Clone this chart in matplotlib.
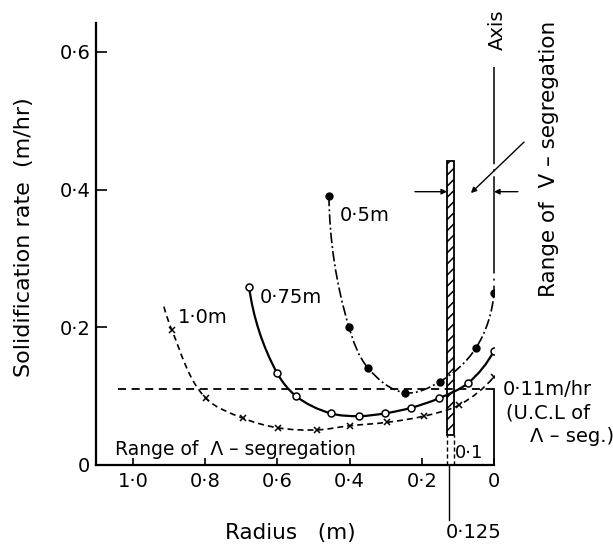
import numpy as np
import matplotlib
matplotlib.use("Agg")
import matplotlib.pyplot as plt
from matplotlib.path import Path
from matplotlib.patches import PathPatch, Rectangle
from matplotlib.transforms import IdentityTransform

plt.rcParams['font.family'] = ['DejaVu Sans']
plt.rcParams['lines.scale_dashes'] = False
plt.rcParams['hatch.linewidth'] = 1.1

# ---- data ----
radius_10 = [0.914, 0.892, 0.798, 0.695, 0.598, 0.490, 0.399, 0.296, 0.194, 0.097, 0.0]
rate_10 = [0.230, 0.196, 0.097, 0.068, 0.054, 0.051, 0.057, 0.062, 0.071, 0.087, 0.128]
marker_from_10 = 1  # first point is only the start of the dashed curve

radius_075 = [0.678, 0.601, 0.548, 0.452, 0.374, 0.302, 0.230, 0.152, 0.072, 0.0]
rate_075 = [0.258, 0.134, 0.100, 0.075, 0.071, 0.075, 0.083, 0.097, 0.119, 0.166]

radius_05 = [0.457, 0.402, 0.349, 0.247, 0.150, 0.050, 0.0]
rate_05 = [0.391, 0.201, 0.141, 0.105, 0.121, 0.170, 0.250]

ucl_rate = 0.11
ucl_from = 1.042
bar_radius = [0.130, 0.111]
bar_rate = [0.043, 0.441]
axis_line_rate = [0.250, 0.578]
v_range_rate = 0.397

xticks = [1.0, 0.8, 0.6, 0.4, 0.2, 0.0]
xticklabels = ["1·0", "0·8", "0·6", "0·4", "0·2", "0"]
yticks = [0.0, 0.2, 0.4, 0.6]
yticklabels = ["0", "0·2", "0·4", "0·6"]

W, H = 613, 548
fig = plt.figure(figsize=(W / 100, H / 100), dpi=100)
ax = fig.add_axes([96 / W, 1 - 465 / H, (494 - 96) / W, (465 - 23) / H])
ax.set_xlim(1.102, 0.0)
ax.set_ylim(0.0, 0.642)
ax.set_autoscale_on(False)
for s in ["top", "right"]:
    ax.spines[s].set_visible(False)
for s in ["left", "bottom"]:
    ax.spines[s].set_linewidth(1.6)

ax.set_xticks(xticks)
ax.set_xticklabels(xticklabels, fontsize=14)
ax.set_yticks(yticks)
ax.set_yticklabels(yticklabels, fontsize=14)
ax.tick_params(axis='x', direction='in', length=5, width=1.2, pad=5)
ax.tick_params(axis='y', direction='in', length=8, width=1.2, pad=4)


def _unit(v):
    return v / np.linalg.norm(v)


def smooth_path(xs, ys):
    """Smooth Bezier path through the points, built in display space."""
    P = ax.transData.transform(np.column_stack([xs, ys]).astype(float))
    n = len(P)
    T = np.zeros_like(P)
    for i in range(1, n - 1):
        T[i] = _unit(_unit(P[i] - P[i - 1]) + _unit(P[i + 1] - P[i]))
    T[0] = _unit(2 * _unit(P[1] - P[0]) - T[1])
    T[-1] = _unit(2 * _unit(P[-1] - P[-2]) - T[-2])
    verts = [P[0]]
    codes = [Path.MOVETO]
    for i in range(n - 1):
        L = np.linalg.norm(P[i + 1] - P[i])
        verts += [P[i] + T[i] * L / 3, P[i + 1] - T[i + 1] * L / 3, P[i + 1]]
        codes += [Path.CURVE4] * 3
    return Path(verts, codes)


def add_curve(xs, ys, **kw):
    patch = PathPatch(smooth_path(xs, ys), fill=False, ec='black',
                      transform=IdentityTransform(), **kw)
    ax.add_patch(patch)


# curves
add_curve(radius_10, rate_10, lw=1.2, linestyle=(0, (4.3, 2.9)))
add_curve(radius_075, rate_075, lw=1.6, linestyle='-')
add_curve(radius_05, rate_05, lw=1.2, linestyle=(0, (7.5, 2.2, 1.4, 2.2)))

ax.plot(radius_10[marker_from_10:], rate_10[marker_from_10:], ls='none', marker='x',
        ms=5, mew=1.1, color='black', zorder=4)
ax.plot(radius_075, rate_075, ls='none', marker='o', ms=5, mew=1.1,
        mfc='white', mec='black', zorder=4)
ax.plot(radius_05, rate_05, ls='none', marker='o', ms=5, color='black', zorder=4)

# U.C.L. line and boundary
ax.plot([ucl_from, 0.0], [ucl_rate, ucl_rate], color='black', lw=1.3,
        dashes=(5.8, 4.0))
ax.plot([0.0, 0.0], [0.0, ucl_rate], color='black', lw=1.3, clip_on=False)

# axis (dash-dot) line
ax.plot([0.0, 0.0], [axis_line_rate[1], axis_line_rate[0]], color='black', lw=1.1,
        dashes=(70, 3.6, 1.5, 3.6), clip_on=False)

# hatched bar
ax.add_patch(Rectangle((bar_radius[1], bar_rate[0]), bar_radius[0] - bar_radius[1],
                       bar_rate[1] - bar_rate[0], fill=False, hatch='///',
                       ec='black', lw=1.3, zorder=3))
for r in bar_radius:
    ax.plot([r, r], [0.0, bar_rate[0]], color='black', lw=1.0, dashes=(3, 2))
ax.plot([0.125, 0.125], [0.0, -0.08], color='black', lw=1.0, clip_on=False)

# arrows for V-segregation range
aprops = dict(arrowstyle='-|>', lw=1.0, color='black', mutation_scale=8,
              shrinkA=0, shrinkB=0)
ax.annotate('', xy=(bar_radius[0], v_range_rate), xytext=(0.219, v_range_rate),
            arrowprops=aprops, annotation_clip=False)
ax.annotate('', xy=(0.0, v_range_rate), xytext=(-0.066, v_range_rate),
            arrowprops=aprops, annotation_clip=False)
ax.annotate('', xy=(0.064, 0.395), xytext=(-0.083, 0.469),
            arrowprops=aprops, annotation_clip=False)

# curve labels
fs = 14
ax.text(0.875, 0.214, "1·0m", fontsize=fs, ha='left', va='center')
ax.text(0.648, 0.244, "0·75m", fontsize=fs, ha='left', va='center')
ax.text(0.427, 0.363, "0·5m", fontsize=fs, ha='left', va='center')
ax.text(1.05, 0.023, "Range of  Λ – segregation", fontsize=13.5, ha='left', va='center')
ax.text(0.068, 0.018, "0·1", fontsize=13, ha='center', va='center')
ax.text(-0.025, 0.109, "0·11m/hr", fontsize=fs, ha='left', va='center', clip_on=False)
ax.text(-0.033, 0.076, "(U.C.L of", fontsize=fs, ha='left', va='center', clip_on=False)
ax.text(-0.10, 0.041, "Λ – seg.)", fontsize=fs, ha='left', va='center', clip_on=False)
ax.text(-0.008, 0.632, "Axis", fontsize=fs, rotation=90, ha='center', va='center',
        clip_on=False)

fig.text(549 / W, 1 - 159 / H, "Range of  V – segregation", fontsize=15.5, rotation=90,
         ha='center', va='center')
fig.text(474 / W, 1 - 533 / H, "0·125", fontsize=fs, ha='center', va='center')
fig.text(290 / W, 1 - 533 / H, "Radius   (m)", fontsize=15.5, ha='center', va='center')
fig.text(24 / W, 1 - 237 / H, "Solidification rate  (m/hr)", fontsize=16,
         rotation=90, ha='center', va='center')

fig.savefig("out.png", dpi=100)
